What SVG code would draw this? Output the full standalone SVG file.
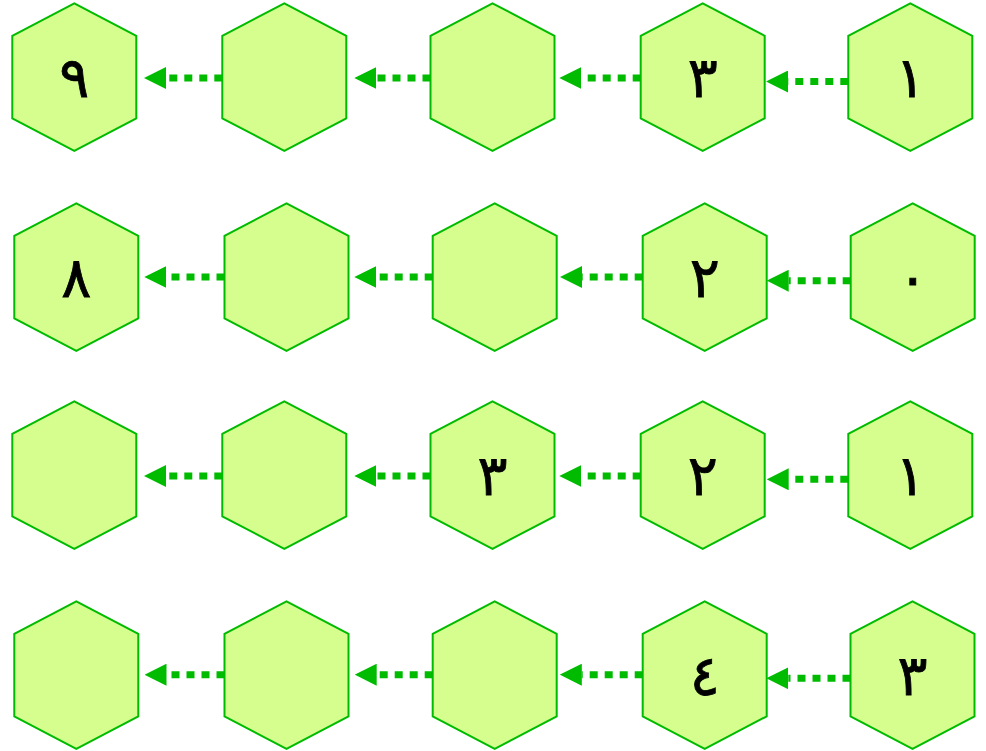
<svg xmlns="http://www.w3.org/2000/svg" xmlns:xlink="http://www.w3.org/1999/xlink" width="986" height="751" viewBox="0 0 986 751">
<style>
.hex{fill:#d5fe8f;stroke:#00bb00;stroke-width:2;stroke-linejoin:miter}
.lbl{font-family:"DejaVu Sans",sans-serif;font-size:56px;fill:#000;stroke:#000;stroke-width:0.8;text-anchor:middle}
.edge{stroke:#00bb00;stroke-width:7;stroke-dasharray:8 7;fill:none}
</style>
<defs>
<polygon id="hex" class="hex" points="62,0 124,32.5 124,115 62,147.5 0,115 0,32.5"/>
<marker id="ah" markerUnits="userSpaceOnUse" markerWidth="22" markerHeight="22" refX="0" refY="11" orient="auto" viewBox="0 0 22 22">
<path d="M22,11 L0,0 L0,22 Z" fill="#00bb00"/>
</marker>
</defs>
<rect width="986" height="751" fill="#ffffff"/>
<g id="connectors">
<line class="edge" x1="222.3" y1="78" x2="166" y2="78" marker-end="url(#ah)"/>
<line class="edge" x1="430.5" y1="78" x2="376.3" y2="78" marker-end="url(#ah)"/>
<line class="edge" x1="640.7" y1="78" x2="581.3" y2="78" marker-end="url(#ah)"/>
<line class="edge" x1="848.3" y1="81.5" x2="788" y2="81.5" marker-end="url(#ah)"/>
<line class="edge" x1="224.5" y1="277" x2="166.3" y2="277" marker-end="url(#ah)"/>
<line class="edge" x1="432.7" y1="277" x2="376.3" y2="277" marker-end="url(#ah)"/>
<line class="edge" x1="642.7" y1="277" x2="582" y2="277" marker-end="url(#ah)"/>
<line class="edge" x1="850.7" y1="280.7" x2="788.7" y2="280.7" marker-end="url(#ah)"/>
<line class="edge" x1="222.3" y1="476" x2="166" y2="476" marker-end="url(#ah)"/>
<line class="edge" x1="430.5" y1="476" x2="376.3" y2="476" marker-end="url(#ah)"/>
<line class="edge" x1="640.7" y1="476" x2="581.3" y2="476" marker-end="url(#ah)"/>
<line class="edge" x1="848.3" y1="479.3" x2="788.7" y2="479.3" marker-end="url(#ah)"/>
<line class="edge" x1="224.5" y1="674.7" x2="166.5" y2="674.7" marker-end="url(#ah)"/>
<line class="edge" x1="432.7" y1="674.7" x2="376.7" y2="674.7" marker-end="url(#ah)"/>
<line class="edge" x1="642.7" y1="674.7" x2="581.8" y2="674.7" marker-end="url(#ah)"/>
<line class="edge" x1="850.5" y1="678.3" x2="788.3" y2="678.3" marker-end="url(#ah)"/>
</g>
<g id="r1c1" transform="translate(12.3,3.3)"><use xlink:href="#hex"/><text class="lbl" x="62" y="93.4">٩</text></g>
<g id="r1c2" transform="translate(222.3,3.3)"><use xlink:href="#hex"/></g>
<g id="r1c3" transform="translate(430.5,3.3)"><use xlink:href="#hex"/></g>
<g id="r1c4" transform="translate(640.7,3.3)"><use xlink:href="#hex"/><text class="lbl" x="62" y="93.4">٣</text></g>
<g id="r1c5" transform="translate(848.3,3.3)"><use xlink:href="#hex"/><text class="lbl" x="62" y="93.4">١</text></g>
<g id="r2c1" transform="translate(14.3,203.3)"><use xlink:href="#hex"/><text class="lbl" x="62" y="93.4">٨</text></g>
<g id="r2c2" transform="translate(224.5,203.3)"><use xlink:href="#hex"/></g>
<g id="r2c3" transform="translate(432.7,203.3)"><use xlink:href="#hex"/></g>
<g id="r2c4" transform="translate(642.7,203.3)"><use xlink:href="#hex"/><text class="lbl" x="62" y="93.4">٢</text></g>
<g id="r2c5" transform="translate(850.7,203.3)"><use xlink:href="#hex"/><text class="lbl" x="62" y="93.4">٠</text></g>
<g id="r3c1" transform="translate(12.3,401.3)"><use xlink:href="#hex"/></g>
<g id="r3c2" transform="translate(222.3,401.3)"><use xlink:href="#hex"/></g>
<g id="r3c3" transform="translate(430.5,401.3)"><use xlink:href="#hex"/><text class="lbl" x="62" y="93.4">٣</text></g>
<g id="r3c4" transform="translate(640.7,401.3)"><use xlink:href="#hex"/><text class="lbl" x="62" y="93.4">٢</text></g>
<g id="r3c5" transform="translate(848.3,401.3)"><use xlink:href="#hex"/><text class="lbl" x="62" y="93.4">١</text></g>
<g id="r4c1" transform="translate(14.3,601.3)"><use xlink:href="#hex"/></g>
<g id="r4c2" transform="translate(224.5,601.3)"><use xlink:href="#hex"/></g>
<g id="r4c3" transform="translate(432.7,601.3)"><use xlink:href="#hex"/></g>
<g id="r4c4" transform="translate(642.7,601.3)"><use xlink:href="#hex"/><text class="lbl" x="62" y="93.4">٤</text></g>
<g id="r4c5" transform="translate(850.5,601.3)"><use xlink:href="#hex"/><text class="lbl" x="62" y="93.4">٣</text></g>
</svg>
